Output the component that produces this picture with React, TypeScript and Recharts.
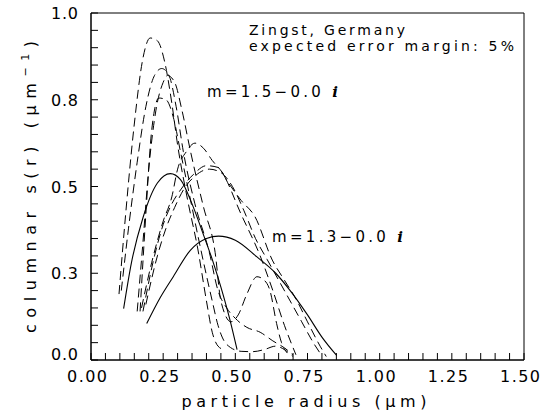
import React from "react";
import { LineChart, Line, XAxis, YAxis, Customized } from "recharts";

// ---- axis ticks / labels ----
const xMajorTicks = [0, 0.25, 0.5, 0.75, 1.0, 1.25, 1.5];
const xTickLabels = ["0.00", "0.25", "0.50", "0.75", "1.00", "1.25", "1.50"];
const yMajorTicks = [0, 0.25, 0.5, 0.75, 1.0];
const yTickLabels = ["0.0", "0.3", "0.5", "0.8", "1.0"];

// ---- solid curves (radius, s(r)) ----
const s1R = [0.113, 0.14, 0.18, 0.23, 0.275, 0.31, 0.35, 0.39, 0.42, 0.45, 0.48, 0.506];
const s1S = [0.148, 0.28, 0.41, 0.51, 0.537, 0.52, 0.45, 0.36, 0.29, 0.21, 0.12, 0.03];
const s2R = [0.193, 0.24, 0.285, 0.344, 0.4, 0.442, 0.5, 0.575, 0.64, 0.69, 0.75, 0.8, 0.851];
const s2S = [0.105, 0.18, 0.24, 0.316, 0.35, 0.357, 0.345, 0.297, 0.25, 0.2, 0.13, 0.066, 0.013];

// ---- dashed curves (m=1.5 group) ----
const d1R = [0.097, 0.12, 0.15, 0.18, 0.205, 0.23, 0.255, 0.28, 0.3, 0.335, 0.37, 0.4, 0.42, 0.44, 0.46];
const d1S = [0.19, 0.42, 0.68, 0.87, 0.928, 0.92, 0.86, 0.74, 0.62, 0.46, 0.32, 0.17, 0.08, 0.04, 0.03];
const d2R = [0.105, 0.13, 0.16, 0.19, 0.22, 0.245, 0.27, 0.295, 0.32, 0.36, 0.41, 0.44, 0.47, 0.5, 0.54, 0.586, 0.63, 0.67, 0.7];
const d2S = [0.2, 0.38, 0.57, 0.73, 0.82, 0.84, 0.82, 0.73, 0.6, 0.45, 0.31, 0.2, 0.15, 0.12, 0.094, 0.08, 0.055, 0.035, 0.015];
const d3R = [0.16, 0.18, 0.2, 0.225, 0.25, 0.265, 0.29, 0.315, 0.345, 0.39, 0.43, 0.45, 0.485, 0.51, 0.54, 0.575, 0.6, 0.62, 0.643, 0.66, 0.68];
const d3S = [0.14, 0.34, 0.55, 0.72, 0.8, 0.82, 0.8, 0.72, 0.6, 0.44, 0.31, 0.17, 0.11, 0.13, 0.19, 0.24, 0.23, 0.2, 0.105, 0.05, 0.02];
const d4R = [0.17, 0.19, 0.21, 0.235, 0.26, 0.285, 0.31, 0.345, 0.38, 0.42, 0.44, 0.47, 0.52, 0.56, 0.6, 0.64, 0.67, 0.7];
const d4S = [0.14, 0.42, 0.66, 0.755, 0.75, 0.7, 0.6, 0.46, 0.32, 0.17, 0.1, 0.045, 0.025, 0.024, 0.03, 0.04, 0.03, 0.01];

// ---- dashed curves (broad group) ----
const b1R = [0.175, 0.21, 0.25, 0.28, 0.3, 0.33, 0.36, 0.39, 0.42, 0.455, 0.52, 0.586, 0.63, 0.67, 0.71];
const b1S = [0.15, 0.28, 0.4, 0.47, 0.55, 0.6, 0.625, 0.61, 0.575, 0.54, 0.42, 0.3, 0.2, 0.1, 0.015];
const b2R = [0.18, 0.22, 0.25, 0.28, 0.31, 0.355, 0.4, 0.44, 0.473, 0.52, 0.568, 0.628, 0.67, 0.712, 0.75, 0.795, 0.815];
const b2S = [0.14, 0.3, 0.39, 0.45, 0.49, 0.535, 0.56, 0.555, 0.514, 0.46, 0.413, 0.288, 0.23, 0.173, 0.11, 0.038, 0.01];
const b3R = [0.19, 0.23, 0.26, 0.29, 0.32, 0.36, 0.41, 0.45, 0.49, 0.53, 0.57, 0.61, 0.65, 0.69, 0.73, 0.77, 0.8];
const b3S = [0.16, 0.3, 0.38, 0.44, 0.49, 0.53, 0.55, 0.54, 0.5, 0.43, 0.35, 0.29, 0.23, 0.17, 0.11, 0.05, 0.012];

const zip = (rs: number[], ss: number[]) => rs.map((r, i) => ({ r, s: ss[i] }));

const solidSeries = [zip(s1R, s1S), zip(s2R, s2S)];
const dashedSeries = [
  zip(d1R, d1S),
  zip(d2R, d2S),
  zip(d3R, d3S),
  zip(d4R, d4S),
  zip(b1R, b1S),
  zip(b2R, b2S),
  zip(b3R, b3S),
];

const X_MAX = 1.5;
const Y_MAX = 1;
const xTicks: number[] = [];
for (let i = 0; i <= 30; i++) xTicks.push(Math.round(i * 5) / 100);
const yTicks: number[] = [];
for (let i = 0; i <= 20; i++) yTicks.push(Math.round(i * 5) / 100);

// layout
const W = 541;
const H = 419;
const MARGIN = { top: 13, right: 17, bottom: 29, left: 31 };
const X_AXIS_H = 30;
const Y_AXIS_W = 60;
const PLOT = {
  left: MARGIN.left + Y_AXIS_W,
  top: MARGIN.top,
  width: W - MARGIN.left - Y_AXIS_W - MARGIN.right,
  height: H - MARGIN.top - MARGIN.bottom - X_AXIS_H,
};

const FONT = "'DejaVu Sans', sans-serif";
const TICK = 7;

const renderXTick = (props: any) => {
  const { x, y, payload, index } = props;
  const v = payload.value;
  const idx = xMajorTicks.findIndex((m) => Math.abs(m - v) < 1e-6);
  if (idx < 0) return <g key={"xt" + index} />;
  return (
    <text key={"xt" + index} x={x - 4} y={y + 22} textAnchor="middle" fontFamily={FONT} fontSize={16} fill="#000" textLength={40} lengthAdjust="spacing">
      {xTickLabels[idx]}
    </text>
  );
};

const renderYTick = (props: any) => {
  const { x, y, payload, index } = props;
  const v = payload.value;
  const idx = yMajorTicks.findIndex((m) => Math.abs(m - v) < 1e-6);
  if (idx < 0) return <g key={"yt" + index} />;
  const shift = Math.abs(v) < 1e-6 ? -6 : 0;
  return (
    <text key={"yt" + index} x={x - 13} y={y + 6 + shift} textAnchor="end" fontFamily={FONT} fontSize={16} fill="#000" textLength={27} lengthAdjust="spacing">
      {yTickLabels[idx]}
    </text>
  );
};

// Frame and inner tick marks drawn as an overlay SVG aligned to the plot area
const FrameOverlay = () => {
  const bottom = PLOT.top + PLOT.height;
  const right = PLOT.left + PLOT.width;
  const segs: string[] = [];
  xTicks.forEach((t) => {
    const px = PLOT.left + (t / X_MAX) * PLOT.width;
    segs.push(`M${px},${bottom}V${bottom - TICK}`);
  });
  yTicks.forEach((t) => {
    const py = bottom - (t / Y_MAX) * PLOT.height;
    segs.push(`M${PLOT.left},${py}H${PLOT.left + TICK}`);
  });
  const framePath = `M${PLOT.left},${PLOT.top}H${right}V${bottom}H${PLOT.left}Z`;
  return (
    <svg
      width={W}
      height={H}
      style={{ position: "absolute", left: 0, top: 0, pointerEvents: "none", overflow: "visible" }}
    >
      <path d={framePath} fill="none" stroke="#000" strokeWidth={1} />
      <path d={segs.join("")} fill="none" stroke="#000" strokeWidth={1} />
    </svg>
  );
};

const Annotations = () => (
  <g fontFamily={FONT} fill="#000">
    <text x={249} y={35} fontSize={14} textLength={156} lengthAdjust="spacing">Zingst, Germany</text>
    <text x={249} y={51} fontSize={14} textLength={265} lengthAdjust="spacing">expected error margin: 5%</text>
    <text x={207} y={97} fontSize={15} textLength={131} lengthAdjust="spacing">
      m=1.5−0.0 <tspan fontFamily="'DejaVu Serif', serif" fontStyle="italic" fontWeight="bold">i</tspan>
    </text>
    <text x={272} y={242} fontSize={15} textLength={131} lengthAdjust="spacing">
      m=1.3−0.0 <tspan fontFamily="'DejaVu Serif', serif" fontStyle="italic" fontWeight="bold">i</tspan>
    </text>
    <text x={304} y={407} fontSize={16} textAnchor="middle" textLength={245} lengthAdjust="spacing">particle radius (μm)</text>
    <text x={36} y={187} fontSize={16} textAnchor="middle" transform="rotate(-90 36 187)" textLength={292} lengthAdjust="spacing">
      columnar s(r) (μm<tspan dy={-7} fontSize={11}>−1</tspan><tspan dy={7}>)</tspan>
    </text>
  </g>
);

const AXIS_LINE = { stroke: "#000", strokeWidth: 1 };

export default function App() {
  return (
    <div style={{ position: "absolute", left: 0, top: 0, width: W, height: H, background: "#fff" }}>
      <LineChart width={W} height={H} margin={MARGIN}>
        <XAxis
          dataKey="r"
          type="number"
          domain={[0, X_MAX]}
          ticks={xTicks}
          interval={0}
          allowDataOverflow
          axisLine={AXIS_LINE}
          tickLine={false}
          tickSize={0}
          tickMargin={0}
          height={X_AXIS_H}
          tick={renderXTick}
        />
        <YAxis
          type="number"
          domain={[0, Y_MAX]}
          ticks={yTicks}
          interval={0}
          allowDataOverflow
          axisLine={AXIS_LINE}
          tickLine={false}
          tickSize={0}
          tickMargin={0}
          width={Y_AXIS_W}
          tick={renderYTick}
        />
        {solidSeries.map((d, i) => (
          <Line key={"s" + i} data={d} dataKey="s" type="monotone" stroke="#000" strokeWidth={1.1} dot={false} activeDot={false} isAnimationActive={false} />
        ))}
        {dashedSeries.map((d, i) => (
          <Line key={"d" + i} data={d} dataKey="s" type="monotone" stroke="#000" strokeWidth={1} strokeDasharray="9 5" dot={false} activeDot={false} isAnimationActive={false} />
        ))}
        <Customized component={Annotations} />
      </LineChart>
      <FrameOverlay />
    </div>
  );
}
